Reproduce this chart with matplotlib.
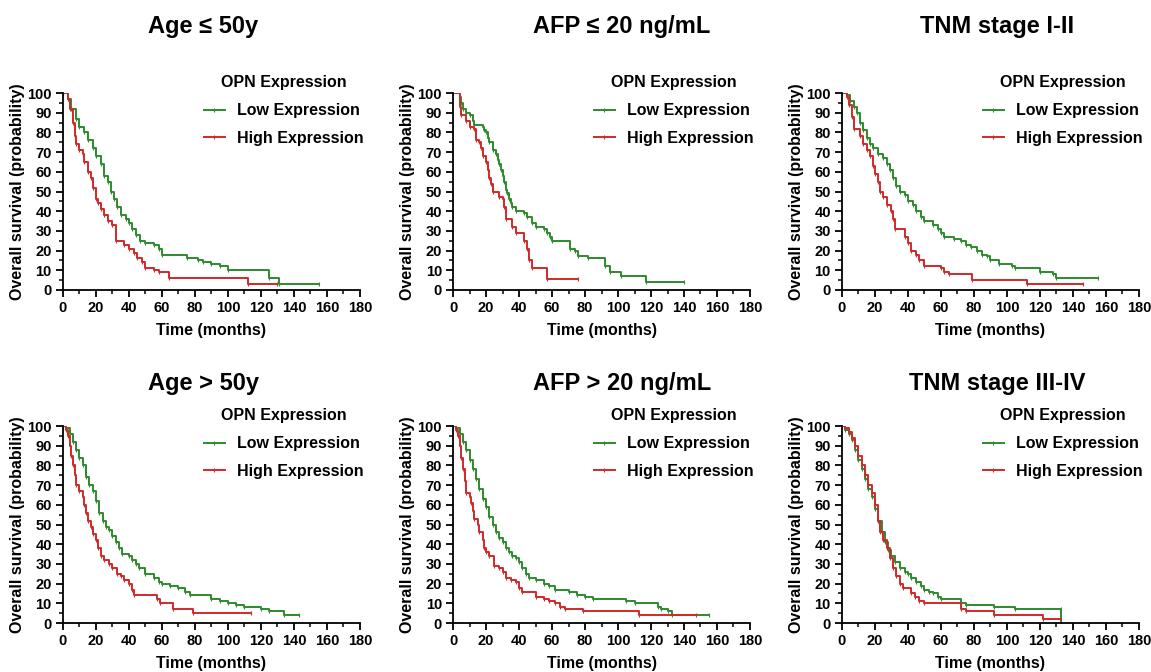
import matplotlib
matplotlib.use('Agg')
import matplotlib.pyplot as plt
from matplotlib.ticker import MultipleLocator

plt.rcParams['font.family'] = ['Liberation Sans', 'DejaVu Sans']
plt.rcParams['font.weight'] = 'bold'

# step points (time in months, survival in %)
age_le50_low_t = [0, 3, 5, 8, 10, 13, 15, 18, 20, 23, 25, 27, 29, 31, 33, 35, 38, 40, 42, 44, 47, 50, 55, 58, 60,
                  75, 82, 85, 90, 95, 100, 125, 131, 155]
age_le50_low_s = [100, 97, 92, 87, 83, 80, 76, 72, 68, 64, 58, 55, 50, 46, 42, 38, 36, 34, 31, 28, 25, 24, 23, 21, 18,
                  16, 15, 14, 13, 12, 10, 6, 3, 3]
age_le50_high_t = [0, 3, 4, 6, 7, 8, 10, 12, 13, 15, 17, 18, 20, 21, 23, 25, 27, 30, 32, 37, 40, 43, 45, 48, 50,
                   55, 58, 64, 112, 130]
age_le50_high_s = [100, 97, 92, 85, 78, 74, 71, 69, 65, 60, 57, 52, 46, 44, 41, 38, 35, 33, 25, 23, 21, 19, 16, 14, 11,
                   10, 9, 6, 3, 3]

afp_le20_low_t = [0, 4, 5, 6, 8, 10, 12, 13, 18, 19, 20, 21, 22, 24, 26, 27, 28, 29, 30, 31, 32, 33, 34, 35, 36, 38,
                  43, 45, 48, 50, 55, 57, 59, 60, 71, 74, 76, 82, 92, 95, 102, 117, 140]
afp_le20_low_s = [100, 98, 95, 92, 90, 89, 86, 84, 83, 81, 80, 77, 75, 71, 69, 66, 64, 61, 58, 55, 51, 49, 46, 44, 42,
                  40, 39, 37, 34, 32, 31, 29, 27, 25, 21, 20, 17, 16, 12, 9, 7, 4, 4]
afp_le20_high_t = [0, 4, 5, 8, 10, 13, 14, 16, 17, 18, 20, 21, 22, 23, 24, 28, 30, 31, 32, 36, 38, 43, 45, 46, 48,
                   57, 76]
afp_le20_high_s = [100, 93, 89, 86, 83, 82, 76, 75, 72, 68, 65, 61, 57, 54, 50, 47, 46, 42, 36, 32, 29, 25, 21, 15, 11,
                   5.5, 5.5]

tnm12_low_t = [0, 3, 5, 7, 9, 11, 13, 15, 17, 19, 22, 25, 27, 29, 31, 33, 35, 38, 40, 43, 45, 48, 50, 55, 58, 60, 62,
               68, 72, 75, 78, 82, 85, 88, 90, 95, 103, 105, 120, 128, 130, 155]
tnm12_low_s = [100, 99, 96, 93, 90, 85, 81, 77, 74, 72, 69, 67, 64, 61, 57, 53, 50, 48, 45, 43, 40, 37, 35, 33, 31, 29,
               27, 26, 25, 23, 22, 20, 18, 17, 15, 13, 12, 11, 9, 8, 6, 6]
tnm12_high_t = [0, 3, 4, 6, 7, 11, 13, 15, 17, 19, 20, 22, 23, 25, 27, 30, 31, 32, 38, 40, 42, 45, 47, 50, 60, 62,
                65, 79, 112, 146]
tnm12_high_s = [100, 98, 94, 88, 82, 78, 74, 71, 68, 63, 59, 55, 50, 47, 43, 40, 36, 31, 27, 24, 20, 18, 15, 12, 11, 9,
                8, 5, 3, 3]

age_gt50_low_t = [0, 2, 4, 6, 8, 10, 12, 14, 16, 18, 20, 22, 24, 26, 28, 30, 32, 34, 36, 40, 42, 44, 46, 50, 55, 58,
                  60, 65, 70, 74, 77, 90, 95, 100, 105, 110, 120, 125, 134, 143]
age_gt50_low_s = [100, 99, 96, 92, 88, 84, 80, 74, 70, 67, 62, 56, 52, 49, 47, 44, 41, 38, 35, 34, 32, 30, 28, 25, 23,
                  21, 20, 19, 18, 16, 14, 12, 11, 10, 9, 8, 7, 6, 4, 4]
age_gt50_high_t = [0, 2, 3, 4, 5, 6, 7, 8, 10, 12, 13, 14, 15, 17, 18, 20, 21, 23, 25, 28, 30, 33, 35, 37, 40, 42,
                   43, 57, 59, 67, 79, 114]
age_gt50_high_s = [100, 98, 95, 90, 85, 80, 75, 70, 67, 64, 60, 56, 52, 49, 45, 42, 38, 34, 32, 30, 28, 25, 24, 22, 20,
                   17, 14, 12, 10, 7, 5, 5]

afp_gt20_low_t = [0, 2, 4, 6, 8, 10, 12, 14, 16, 18, 20, 22, 24, 26, 28, 30, 32, 34, 36, 38, 40, 42, 44, 46, 50, 55,
                  58, 62, 70, 75, 80, 85, 105, 110, 124, 126, 130, 133, 155]
afp_gt20_low_s = [100, 99, 96, 92, 88, 83, 78, 73, 68, 63, 59, 54, 50, 46, 43, 41, 38, 36, 34, 33, 31, 28, 25, 23, 22,
                  20, 19, 17, 16, 14, 13, 12, 11, 10, 8, 7, 6, 4, 4]
afp_gt20_high_t = [0, 2, 3, 4, 5, 6, 7, 8, 10, 11, 12, 13, 15, 16, 18, 19, 20, 22, 25, 28, 30, 32, 35, 38, 40, 42,
                   50, 55, 58, 62, 65, 68, 79, 113, 147]
afp_gt20_high_s = [100, 98, 95, 90, 84, 78, 72, 66, 64, 61, 57, 53, 50, 46, 42, 38, 36, 34, 29, 28, 26, 23, 22, 21, 18,
                   16, 13, 12, 11, 10, 8, 7, 6, 4, 4]

tnm34_low_t = [0, 2, 4, 6, 8, 10, 12, 14, 16, 18, 20, 22, 24, 26, 28, 30, 32, 35, 38, 40, 42, 45, 48, 50, 53, 55, 58,
               60, 72, 75, 92, 105, 133, 133]
tnm34_low_s = [100, 98, 96, 93, 88, 83, 78, 73, 68, 64, 58, 52, 46, 41, 37, 34, 31, 28, 26, 25, 23, 21, 19, 17, 16, 15,
               13, 12, 10, 9, 8, 7, 7, 0]
tnm34_high_t = [0, 2, 4, 6, 8, 10, 12, 14, 16, 18, 20, 22, 23, 25, 27, 29, 31, 33, 35, 37, 42, 44, 47, 50, 72, 75,
                92, 122, 133]
tnm34_high_s = [100, 99, 97, 94, 90, 85, 80, 75, 70, 66, 60, 52, 46, 42, 38, 33, 28, 24, 20, 18, 15, 13, 11, 10, 7, 6,
                4, 2, 2]

titles = ['Age \u2264 50y', 'AFP \u2264 20 ng/mL', 'TNM stage I-II',
          'Age > 50y', 'AFP > 20 ng/mL', 'TNM stage III-IV']
curves = [
    (age_le50_low_t, age_le50_low_s, age_le50_high_t, age_le50_high_s),
    (afp_le20_low_t, afp_le20_low_s, afp_le20_high_t, afp_le20_high_s),
    (tnm12_low_t, tnm12_low_s, tnm12_high_t, tnm12_high_s),
    (age_gt50_low_t, age_gt50_low_s, age_gt50_high_t, age_gt50_high_s),
    (afp_gt20_low_t, afp_gt20_low_s, afp_gt20_high_t, afp_gt20_high_s),
    (tnm34_low_t, tnm34_low_s, tnm34_high_t, tnm34_high_s),
]

GREEN = '#2e8b2e'
RED = '#d02a2a'

fig = plt.figure(figsize=(11.51, 6.72), dpi=100)

lefts = [0.0547, 0.3936, 0.7315]
bottoms = [0.5685, 0.0729]
title_x = [0.1764, 0.5404, 0.8662]
title_y = [0.951, 0.42]

for k, (lt, ls, ht, hs) in enumerate(curves):
    row, col = divmod(k, 3)
    ax = fig.add_axes([lefts[col], bottoms[row], 0.258, 0.293])

    ax.plot(lt, ls, drawstyle='steps-post', color=GREEN, lw=1.4,
            marker='|', ms=3, mew=0.8, label='Low Expression')
    ax.plot(ht, hs, drawstyle='steps-post', color=RED, lw=1.4,
            marker='|', ms=3, mew=0.8, label='High Expression')

    ax.set_xlim(0, 180)
    ax.set_ylim(0, 100)
    ax.xaxis.set_major_locator(MultipleLocator(20))
    ax.xaxis.set_minor_locator(MultipleLocator(10))
    ax.yaxis.set_major_locator(MultipleLocator(10))
    ax.yaxis.set_minor_locator(MultipleLocator(5))
    for s in ['top', 'right']:
        ax.spines[s].set_visible(False)
    for s in ['left', 'bottom']:
        ax.spines[s].set_linewidth(1.3)
    ax.tick_params(which='major', length=5, width=1.3, labelsize=10.5, pad=3)
    ax.tick_params(which='minor', length=3, width=1.1)
    ax.set_xlabel('Time (months)', fontsize=11.5, fontweight='bold', labelpad=6)
    ax.set_ylabel('Overall survival (probability)', fontsize=11.5, fontweight='bold', labelpad=2)

    leg = ax.legend(loc='upper left', bbox_to_anchor=(0.475, 1.09), frameon=False,
                    title='OPN Expression', fontsize=11.5, title_fontsize=11.5,
                    handlelength=1.3, handletextpad=0.75, labelspacing=0.8,
                    borderpad=0, borderaxespad=0)
    leg.get_title().set_fontweight('bold')

    fig.text(title_x[col], title_y[row], titles[k], fontsize=17, fontweight='bold',
             ha='center', va='baseline')

fig.savefig('out.png', dpi=100)
